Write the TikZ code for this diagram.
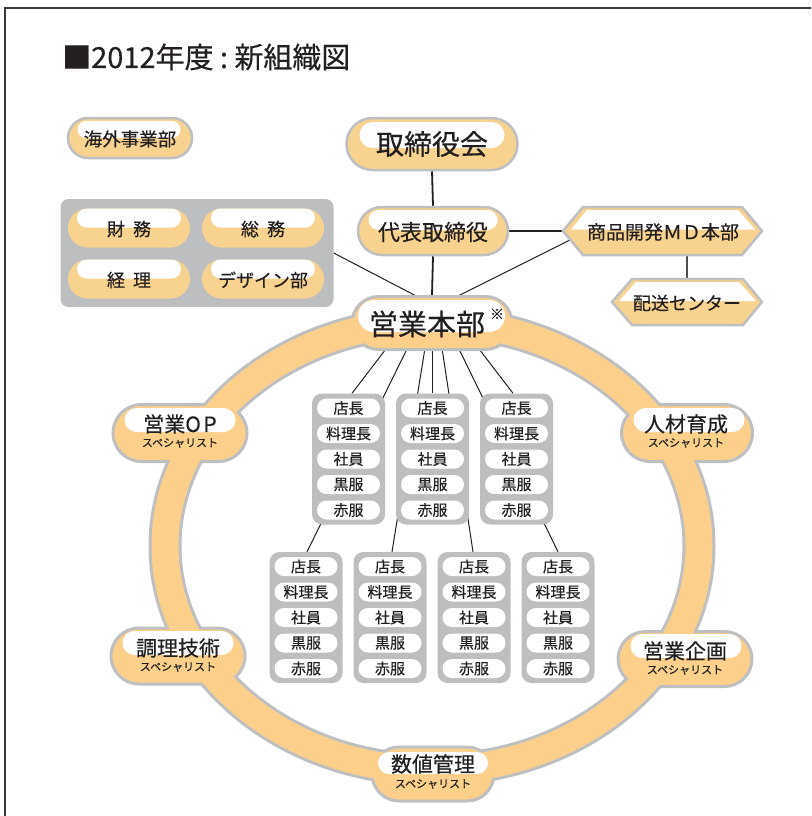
\documentclass[tikz,border=0pt]{standalone}
\usepackage{fontspec}
\setmainfont{Noto Sans CJK JP}[FakeBold=0.35]
\usetikzlibrary{shapes.misc,calc}
\pgfdeclarelayer{bg}
\pgfsetlayers{bg,main}
\definecolor{pillor}{HTML}{F8D38F}
\definecolor{ringor}{HTML}{FCCF8B}
\definecolor{bgrey}{HTML}{BEBFC1}
\definecolor{boxgrey}{HTML}{BDBEC0}
\definecolor{txt}{HTML}{231F20}
\definecolor{framec}{HTML}{3A3A3A}
\tikzset{
 pillshape/.style={rounded rectangle, inner sep=0pt, fill=pillor, draw=bgrey, line width=2.5pt},
 ringpill/.style={rounded rectangle, inner sep=0pt, fill=ringor, draw=bgrey, line width=3pt},
 flatpill/.style={rounded rectangle, inner sep=0pt, fill=pillor, minimum width=122pt, minimum height=39pt},
 hl/.style={rounded rectangle, inner sep=0pt, fill=white},
 itempill/.style={rounded rectangle, inner sep=0pt, fill=white, minimum width=63pt, minimum height=19pt, font=\fontsize{15}{15}\selectfont, text=txt},
 storebox/.style={rectangle, rounded corners=10pt, fill=boxgrey, minimum width=73pt, minimum height=131pt, inner sep=0pt},
 conn/.style={line width=1pt, draw=txt},
 connthick/.style={line width=1.8pt, draw=txt},
 lbl/.style={inner sep=0pt, text=txt},
 hexshape/.style={fill=pillor, draw=bgrey, line width=2.5pt},
 fmain/.style={font=\fontsize{21}{21}\selectfont},
 fsub/.style={font=\fontsize{11}{11}\selectfont},
}
\newcommand\storeunit[3]{%
 \node[storebox] (#1) at (#2,#3) {};
 \foreach \t [count=\i] in {店長,料理長,社員,黒服,赤服} {
   \node[itempill] (#1-\i) at (#2,{#3+(\i-3)*25.5}) {\t};
 }
}
\begin{document}
\begin{tikzpicture}[x=1pt,y=-1pt]
\useasboundingbox (0,0) rectangle (811,816);
\clip (0,0) rectangle (811,816);
\draw[framec, line width=2pt] (5,8) rectangle (900,900);
\node[lbl, anchor=west, font=\fontsize{29}{29}\selectfont] (title) at (62,57) {■2012年度\hspace{0.22em}:\hspace{0.22em}新組織図};

% ---- top nodes
\node[pillshape, minimum width=171pt, minimum height=52pt] (bod) at (432,144) {};
\node[hl, minimum width=145pt, minimum height=26pt] (bodhl) at (432,135) {};
\node[lbl, font=\fontsize{28}{28}\selectfont] (bodt) at (432,144) {取締役会};

\node[pillshape, minimum width=150pt, minimum height=48pt] (rep) at (433,231) {};
\node[hl, minimum width=129pt, minimum height=20pt] (rephl) at (433,220) {};
\node[lbl, font=\fontsize{22}{22}\selectfont] (rept) at (433,232) {代表取締役};

\node[pillshape, minimum width=124pt, minimum height=40pt] (ovs) at (130,138) {};
\node[hl, minimum width=103pt, minimum height=17pt] (ovshl) at (129,129.5) {};
\node[lbl, font=\fontsize{18.5}{18.5}\selectfont] (ovst) at (130,139) {海外事業部};

% grey admin box
\node[rectangle, rounded corners=8pt, fill=boxgrey, minimum width=273pt, minimum height=108pt, inner sep=0pt] (gbox) at (197,253) {};
\node[flatpill] (fin) at (129,228) {};
\node[flatpill] (gen) at (263,228) {};
\node[flatpill] (acc) at (129,279) {};
\node[flatpill] (des) at (263,279) {};
\node[hl, minimum width=104pt, minimum height=19pt] (finhl) at (129,218) {};
\node[hl, minimum width=104pt, minimum height=19pt] (genhl) at (263,218) {};
\node[hl, minimum width=104pt, minimum height=19pt] (acchl) at (129,269) {};
\node[hl, minimum width=104pt, minimum height=19pt] (deshl) at (263,269) {};
\node[lbl, font=\fontsize{18}{18}\selectfont] (fint) at (129,229) {財\hspace{0.45em}務};
\node[lbl, font=\fontsize{18}{18}\selectfont] (gent) at (263,229) {総\hspace{0.45em}務};
\node[lbl, font=\fontsize{18}{18}\selectfont] (acct) at (129,280) {経\hspace{0.45em}理};
\node[lbl, font=\fontsize{18}{18}\selectfont] (dest) at (263,280) {デザイン部};

% hexagons
\draw[hexshape] (563,231) -- (583,207) -- (742,207) -- (762,231) -- (742,255) -- (583,255) -- cycle;
\fill[white] (587,210) -- (738,210) -- (755,229.5) -- (571,229.5) -- cycle;
\node[lbl, font=\fontsize{19}{19}\selectfont] (md) at (663,232) {商品開発ＭＤ本部};
\coordinate (mdW) at (563,231);
\coordinate (mdS) at (687,255);
\coordinate (mdLL) at (570,240);

\draw[hexshape] (612,302) -- (632,279) -- (743,279) -- (762,302) -- (743,325) -- (632,325) -- cycle;
\fill[white] (636,282) -- (739,282) -- (756,301) -- (619,301) -- cycle;
\node[lbl, font=\fontsize{18}{18}\selectfont] (dc) at (687,303) {配送センター};
\coordinate (dcN) at (687,279);

% ---- ring
\draw[bgrey, line width=33pt] (432,546) ellipse [x radius=267pt, y radius=224pt];
\node[ringpill, minimum width=160pt, minimum height=53pt] (hq) at (432,323) {};
\node[ringpill, minimum width=134pt, minimum height=57pt] (op) at (180,433) {};
\node[ringpill, minimum width=131pt, minimum height=57pt] (hr) at (687,433) {};
\node[ringpill, minimum width=134pt, minimum height=56pt] (ck) at (178,656) {};
\node[ringpill, minimum width=134pt, minimum height=55pt] (pl) at (685,659) {};
\node[ringpill, minimum width=122pt, minimum height=54pt] (nm) at (433,774) {};
\draw[ringor, line width=27pt] (432,546) ellipse [x radius=267pt, y radius=224pt];

\node[hl, minimum width=147pt, minimum height=32pt] (hqhl) at (431.5,316) {};
\node[hl, minimum width=111pt, minimum height=24pt] (ophl) at (180,420) {};
\node[hl, minimum width=111pt, minimum height=24pt] (hrhl) at (689,420) {};
\node[hl, minimum width=111pt, minimum height=24pt] (ckhl) at (178,643) {};
\node[hl, minimum width=111pt, minimum height=24pt] (plhl) at (686,646) {};
\node[hl, minimum width=110pt, minimum height=22pt] (nmhl) at (433,763) {};

\node[lbl, font=\fontsize{29}{29}\selectfont] (hqt) at (427,324) {営業本部};
\node[lbl, font=\fontsize{14}{14}\selectfont] (hqm) at (497,314) {※};

\node[lbl, fmain] (opt) at (180,424) {営業O\hspace{0.12em}P};
\node[lbl, fsub] (ops) at (180,443) {スペシャリスト};
\node[lbl, fmain] (hrt) at (686,424) {人材育成};
\node[lbl, fsub] (hrs) at (686,443) {スペシャリスト};
\node[lbl, fmain] (ckt) at (178,648) {調理技術};
\node[lbl, fsub] (cks) at (178,667) {スペシャリスト};
\node[lbl, fmain] (plt) at (685,651) {営業企画};
\node[lbl, fsub] (pls) at (685,670) {スペシャリスト};
\node[lbl, fmain] (nmt) at (433,764) {数値管理};
\node[lbl, fsub] (nms) at (433,784) {スペシャリスト};

% ---- stores
\storeunit{u1}{348.5}{459}
\storeunit{u2}{432.5}{459}
\storeunit{u3}{516.5}{459}
\storeunit{l1}{306}{617.5}
\storeunit{l2}{390}{617.5}
\storeunit{l3}{474}{617.5}
\storeunit{l4}{558}{617.5}

\coordinate (hq1) at (389,345);
\coordinate (hq2) at (409,345);
\coordinate (hq3) at (425.5,345);
\coordinate (hq4) at (432.5,345);
\coordinate (hq5) at (441.5,345);
\coordinate (hq6) at (457,345);
\coordinate (hq7) at (476,345);
\coordinate (hqL) at (420,298);
\coordinate (hqR) at (450,300);

% ---- connectors (behind)
\begin{pgfonlayer}{bg}
\draw[connthick] (bod.south) -- (rep.north);
\draw[connthick] (rep.south) -- (hq.north);
\draw[conn, line width=1.4pt] (rep.east) -- (mdW);
\draw[conn, line width=1.6pt, draw=txt!80] (mdS) -- (dcN);
\draw[conn] (gbox.east) -- (hqL);
\draw[conn] (mdLL) -- (hqR);
\draw[conn] (hq1) -- ([xshift=3.5pt]u1.north);
\draw[conn] (hq2) -- ([xshift=1pt]l1.north);
\draw[conn] (hq3) -- ([xshift=2pt]l2.north);
\draw[connthick] (hq4) -- (u2.north);
\draw[conn] (hq5) -- ([xshift=-1pt]l3.north);
\draw[conn] (hq6) -- (l4.north);
\draw[conn] (hq7) -- ([xshift=-3.5pt]u3.north);
\end{pgfonlayer}
\end{tikzpicture}
\end{document}
